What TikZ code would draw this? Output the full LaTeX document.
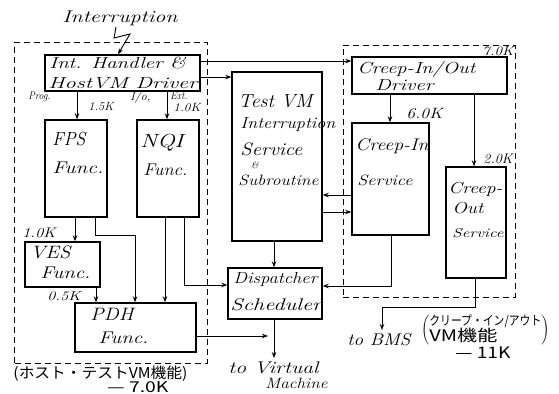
\documentclass[tikz,border=0pt]{standalone}
\usepackage{fontspec}
\newfontfamily\jp{Noto Sans CJK JP}
\usetikzlibrary{arrows.meta}
\newcommand\fw[2]{\resizebox{#1bp}{\height}{#2}}
\begin{document}
\begin{tikzpicture}[x=1bp,y=-1bp,line width=0.9bp,
  box/.style={draw,line width=1.4bp,inner sep=0},
  grp/.style={draw,line width=1bp,dash pattern=on 6bp off 4bp,inner sep=0},
  arr/.style={-{Stealth[length=6bp,width=4.5bp]}},
  t/.style={anchor=base west,inner sep=0,font=\itshape\fontsize{#1}{#1}\selectfont},
  jt/.style={anchor=base west,inner sep=0,font=\jp\fontsize{#1}{#1}\selectfont}]
\useasboundingbox (0,0) rectangle (559,393);
% groups
\node[grp,minimum width=192bp,minimum height=321bp] (gl) at (111,202.5) {};
\node[grp,minimum width=172bp,minimum height=252bp] (gr) at (429,171) {};
% boxes
\node[box,minimum width=155bp,minimum height=36bp] (ih) at (122.5,73) {};
\node[box,minimum width=62bp,minimum height=97bp] (fps) at (76,168.5) {};
\node[box,minimum width=62bp,minimum height=97bp] (nqi) at (168,168.5) {};
\node[box,minimum width=75bp,minimum height=45bp] (ves) at (62.5,264.5) {};
\node[box,minimum width=121bp,minimum height=49bp] (pdh) at (135.5,327.5) {};
\node[box,minimum width=90bp,minimum height=169bp] (tvm) at (277,156.5) {};
\node[box,minimum width=94bp,minimum height=51bp] (disp) at (275,293.5) {};
\node[box,minimum width=155bp,minimum height=37bp] (drv) at (429.5,75.5) {};
\node[box,minimum width=77bp,minimum height=112bp] (cin) at (390.5,179) {};
\node[box,minimum width=60bp,minimum height=111bp] (cout) at (476,222.5) {};
% texts in boxes
\node[t=17] (tint) at (62,22) {\fw{115}{Interruption}};
\node[t=16] at (49,68) {\fw{136}{Int. Handler \&}};
\node[t=16] at (48,88) {\fw{149}{HostVM Driver}};
\node[t=19] at (52,145) {\fw{33}{FPS}};
\node[t=17] at (52,173) {\fw{51}{Func.}};
\node[t=19] at (140,147) {\fw{43}{NQI}};
\node[t=17] at (143,175) {\fw{44}{Func.}};
\node[t=18] at (30,258) {\fw{40}{VES}};
\node[t=17] at (40,278) {\fw{50}{Func.}};
\node[t=18] at (90,320) {\fw{43}{PDH}};
\node[t=17] at (98,343) {\fw{50}{Func.}};
\node[t=19] at (238,107) {\fw{74}{Test VM}};
\node[t=16] at (240,128) {\fw{95}{Interruption}};
\node[t=18] at (240,155) {\fw{62}{Service}};
\node[t=9] at (251,168) {\&};
\node[t=15] at (238,185) {\fw{80}{Subroutine}};
\node[t=16] at (233,283) {\fw{84}{Dispatcher}};
\node[t=17] at (230,310) {\fw{91}{Scheduler}};
\node[t=16] at (357,73) {\fw{118}{Creep-In/Out}};
\node[t=16] at (375,90) {\fw{58}{Driver}};
\node[t=17] at (355,150) {\fw{73}{Creep-In}};
\node[t=15] at (357,185) {\fw{55}{Service}};
\node[t=16] at (448,193) {\fw{54}{Creep-}};
\node[t=16] at (452,213) {\fw{31}{Out}};
\node[t=13] at (452,237) {\fw{51}{Service}};
% size labels
\node[t=11] at (28,99) {\fw{22}{Prog.}};
\node[t=12] at (88,110) {\fw{25}{1.5K}};
\node[t=12] at (130,100) {\fw{20}{I/o,}};
\node[t=11] at (170,99) {\fw{17}{Ext.}};
\node[t=12] at (173,111) {\fw{27}{1.0K}};
\node[t=14] at (22,237) {\fw{33}{1.0K}};
\node[t=13] at (47,300) {\fw{33}{0.5K}};
\node[t=13] at (482,55) {\fw{31}{7.0K}};
\node[t=15] at (406,118) {\fw{36}{6.0K}};
\node[t=14] at (483,163) {\fw{29}{2.0K}};
% outside labels
\node[t=17] at (228,373) {\fw{90}{to Virtual}};
\node[t=15] at (265,388) {\fw{62}{Machine}};
\node[t=17] at (347,345) {\fw{63}{to BMS}};
\node[jt=15] at (13,378) {\fw{174}{(ホスト・テストVM機能)}};
\node[jt=15] at (107,392) {\fw{61}{— 7.0K}};
\node[anchor=west,inner sep=0] (jr) at (421,330)
  {$\left(\vcenter{\hbox{\begin{tabular}{@{}l@{}}{\jp\fontsize{13}{15}\selectfont\fw{112}{クリープ・イン/アウト}}\\[-1pt]{\jp\fontsize{16}{16}\selectfont\fw{68}{VM機能}}\end{tabular}}}\right)$};
\node[jt=16] at (455,358) {\fw{55}{— 11K}};
% coordinates
\coordinate (c75) at (75,0); \coordinate (c77) at (77,0);
\coordinate (c95) at (95,0); \coordinate (c96) at (96,0);
\coordinate (c118) at (118,0); \coordinate (c135) at (135,0);
\coordinate (c165) at (165,0); \coordinate (c167) at (167,0);
\coordinate (c184) at (184,0); \coordinate (c274) at (274,0);
\coordinate (c382) at (382,0); \coordinate (c390) at (390,0);
\coordinate (c391) at (391,0); \coordinate (c474) at (474,0);
\coordinate (c475) at (475,0);
\coordinate (r61) at (0,61); \coordinate (r77) at (0,77);
\coordinate (r195) at (0,195); \coordinate (r212) at (0,212);
\coordinate (r235) at (0,235); \coordinate (r285) at (0,285);
\coordinate (r286) at (0,286); \coordinate (r307) at (0,307);
\coordinate (r336) at (0,336);
\coordinate (bolt) at (116,27);
\coordinate (vmj) at (268,336);
\coordinate (vm) at (274,358);
\coordinate (bms) at (382,330);
% connectors
\draw[arr] (bolt) -- (114,38) -- (130,34) -- (ih.north -| c118);
\draw[arr] (ih.east |- r61) -- (drv.west |- r61);
\draw[arr] (ih.east |- r77) -- (tvm.west |- r77);
\draw[arr] (ih.south -| c77) -- (fps.north -| c77);
\draw[arr] (ih.south -| c167) -- (nqi.north -| c167);
\draw[arr] (fps.south -| c75) -- (ves.north -| c75);
\draw[arr] (fps.south -| c95) |- (c135 |- r235) -- (pdh.north -| c135);
\draw[arr] (nqi.south -| c165) -- (pdh.north -| c165);
\draw[arr] (nqi.south -| c184) |- (disp.west |- r285);
\draw[arr] (ves.south -| c96) -- (pdh.north -| c96);
\draw[arr] (pdh.east |- r336) -- (vmj);
\draw[arr] (disp.south -| c274) -- (vm);
\draw[arr] (tvm.south -| c274) -- (disp.north -| c274);
\draw[arr] (drv.south -| c390) -- (cin.north -| c390);
\draw[arr] (drv.south -| c474) -- (cout.north -| c474);
\draw[arr] (cin.west |- r195) -- (tvm.east |- r195);
\draw[arr] (tvm.east |- r212) -- (cin.west |- r212);
\draw[arr] (cin.south -| c391) |- (disp.east |- r286);
\draw[arr] (cout.south -| c475) |- (c382 |- r307) -- (bms);
\end{tikzpicture}
\end{document}
